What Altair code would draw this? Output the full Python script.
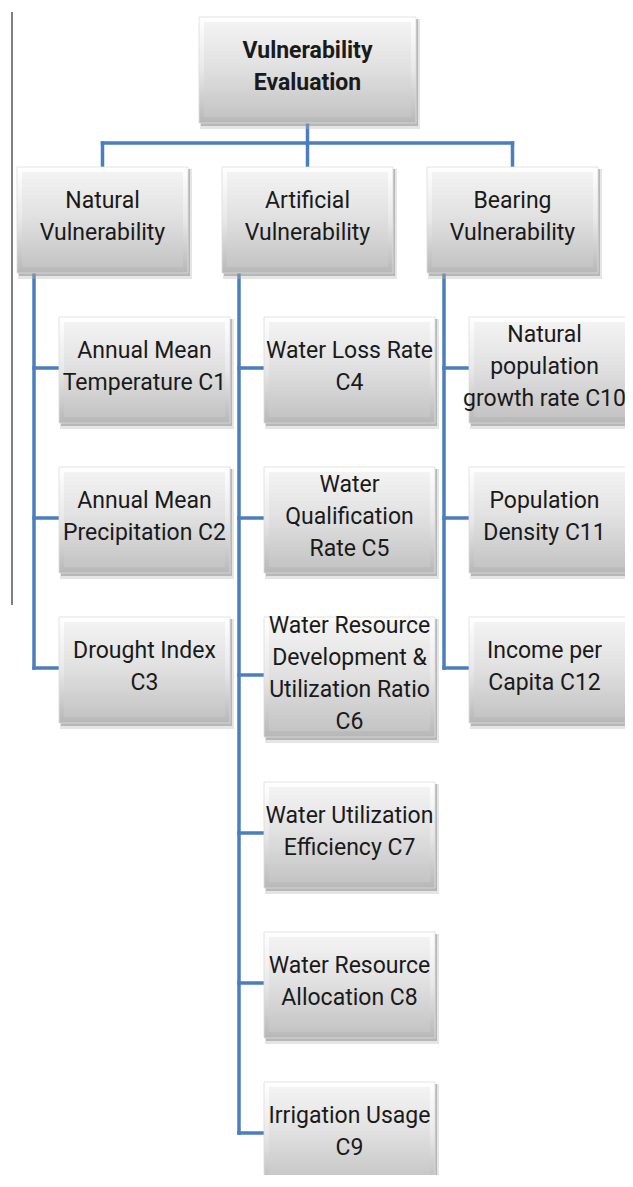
import altair as alt
import pandas as pd

# ---------------- data ----------------
root_label = "Vulnerability\nEvaluation"
group_labels = ["Natural\nVulnerability", "Artificial\nVulnerability", "Bearing\nVulnerability"]
leaf_labels = [
    ["Annual Mean\nTemperature C1", "Annual Mean\nPrecipitation C2", "Drought Index\nC3"],
    ["Water Loss Rate\nC4", "Water\nQualification\nRate C5",
     "Water Resource\nDevelopment &\nUtilization Ratio\nC6",
     "Water Utilization\nEfficiency C7", "Water Resource\nAllocation C8",
     "Irrigation Usage\nC9"],
    ["Natural\npopulation\ngrowth rate C10", "Population\nDensity C11", "Income per\nCapita C12"],
]

# ---------------- layout (pixel space of the reference) ----------------
root_box = (199, 416, 17, 123)
group_left = [17, 222, 427]
box_w = 171
group_top, group_bottom = 167, 273
bus_y = 143
trunk_offset = 17
leaf_offset = 42
leaf_tops = [[317, 467, 617], [317, 467, 617, 782, 932, 1082], [317, 467, 617]]
leaf_heights = [[106, 106, 106], [106, 106, 120, 106, 106, 106], [106, 106, 106]]
text_shift = [0, 0, -10]   # keep the right column's labels inside the page
line_h = 32

boxes = [dict(x=root_box[0], x2=root_box[1], y=root_box[2], y2=root_box[3],
              label=root_label, kind="root", shift=0)]
segs = []
cx_root = (root_box[0] + root_box[1]) / 2
segs.append(dict(x=cx_root, x2=cx_root, y=root_box[3], y2=bus_y))
centers = [g + box_w / 2 for g in group_left]
segs.append(dict(x=centers[0], x2=centers[-1], y=bus_y, y2=bus_y))
for gi, gl in enumerate(group_left):
    c = centers[gi]
    segs.append(dict(x=c, x2=c, y=bus_y, y2=group_top))
    boxes.append(dict(x=gl, x2=gl + box_w, y=group_top, y2=group_bottom,
                      label=group_labels[gi], kind="group", shift=0))
    tx = gl + trunk_offset
    lx = gl + leaf_offset
    last_y = None
    for li, lab in enumerate(leaf_labels[gi]):
        t = leaf_tops[gi][li]
        h = leaf_heights[gi][li]
        cy = t + h / 2 - 2
        boxes.append(dict(x=lx, x2=lx + box_w, y=t, y2=t + h, label=lab,
                          kind="leaf", shift=text_shift[gi]))
        segs.append(dict(x=tx, x2=lx, y=cy, y2=cy))
        last_y = cy
    segs.append(dict(x=tx, x2=tx, y=group_bottom, y2=last_y))

box_df = pd.DataFrame(boxes)
box_df["cx"] = (box_df["x"] + box_df["x2"]) / 2 + box_df["shift"]
nlines = box_df["label"].str.count("\n") + 1
# y of the first text line so that the block is centred in its box
box_df["ty"] = (box_df["y"] + box_df["y2"]) / 2 - 3 - (nlines - 1) * line_h / 2
seg_df = pd.DataFrame(segs)
frame_df = pd.DataFrame([dict(x=12, y=12, y2=605)])

# ---------------- scales ----------------
W, H = 617, 1167
xs = alt.Scale(domain=[8, 8 + W], nice=False, zero=False)
ys = alt.Scale(domain=[8, 8 + H], nice=False, zero=False, reverse=True)

def X(f):
    return alt.X(f, type="quantitative", scale=xs, axis=None)

def Y(f):
    return alt.Y(f, type="quantitative", scale=ys, axis=None)

base_box = alt.Chart(box_df)

shadow2 = base_box.transform_calculate(
    sx="datum.x + 1", sx2="datum.x2 + 4", sy="datum.y + 2", sy2="datum.y2 + 6"
).mark_rect(color="#b5b5b5", opacity=0.35, clip=True).encode(
    x=X("sx"), x2="sx2", y=Y("sy"), y2="sy2")

shadow1 = base_box.transform_calculate(
    sx="datum.x + 2", sx2="datum.x2 + 2", sy="datum.y + 2", sy2="datum.y2 + 3"
).mark_rect(color="#8a8a8a", opacity=0.5, clip=True).encode(
    x=X("sx"), x2="sx2", y=Y("sy"), y2="sy2")

outer_grad = alt.Gradient(
    gradient="linear",
    stops=[alt.GradientStop(color="#ffffff", offset=0),
           alt.GradientStop(color="#e8e8e8", offset=0.5),
           alt.GradientStop(color="#b7b7b7", offset=1)],
    x1=0, x2=0, y1=0, y2=1)
inner_grad = alt.Gradient(
    gradient="linear",
    stops=[alt.GradientStop(color="#f3f3f3", offset=0),
           alt.GradientStop(color="#e2e2e2", offset=0.45),
           alt.GradientStop(color="#c4c4c4", offset=1)],
    x1=0, x2=0, y1=0, y2=1)

outer = base_box.mark_rect(fill=outer_grad, stroke="#dcdcdc", strokeWidth=0.8,
                           clip=True).encode(x=X("x"), x2="x2", y=Y("y"), y2="y2")

inner = base_box.transform_calculate(
    ix="datum.x + 5", ix2="datum.x2 - 5", iy="datum.y + 5", iy2="datum.y2 - 6"
).mark_rect(fill=inner_grad, clip=True).encode(
    x=X("ix"), x2="ix2", y=Y("iy"), y2="iy2")

connectors = alt.Chart(seg_df).mark_rule(
    color="#4a7ebd", strokeWidth=3.5, strokeCap="square"
).encode(x=X("x"), x2="x2", y=Y("y"), y2="y2")

frame = alt.Chart(frame_df).mark_rule(color="#000000", strokeWidth=1).encode(
    x=X("x"), y=Y("y"), y2="y2")

font = "Roboto, sans-serif"
text_reg = base_box.transform_filter("datum.kind != 'root'").mark_text(
    font=font, fontSize=23, lineBreak="\n", lineHeight=line_h, align="center",
    baseline="middle", color="#1a1a1a", clip=True
).encode(x=X("cx"), y=Y("ty"), text="label:N")

text_root = base_box.transform_filter("datum.kind == 'root'").mark_text(
    font=font, fontSize=23, fontWeight="bold", lineBreak="\n", lineHeight=line_h,
    align="center", baseline="middle", color="#1a1a1a"
).encode(x=X("cx"), y=Y("ty"), text="label:N")

chart = alt.layer(
    frame, connectors, shadow2, shadow1, outer, inner, text_reg, text_root
).properties(width=W, height=H, padding=0, background="white").configure_view(
    stroke=None)

chart.save("out.html", embed_options={"renderer": "svg", "actions": False})
